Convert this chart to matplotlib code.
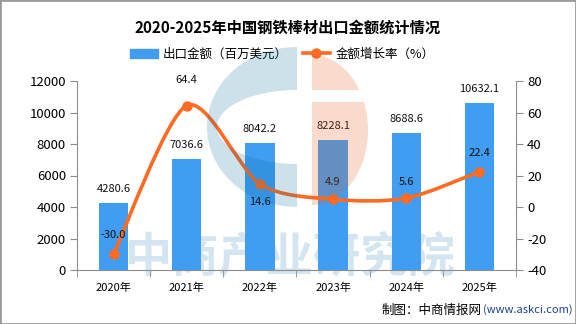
import numpy as np
import matplotlib.pyplot as plt
from matplotlib.path import Path
from matplotlib.patches import PathPatch, Rectangle, Polygon
from matplotlib.lines import Line2D

plt.rcParams['font.family'] = ['Noto Sans CJK SC', 'DejaVu Sans']
plt.rcParams['axes.unicode_minus'] = False

years = ['2020年', '2021年', '2022年', '2023年', '2024年', '2025年']
amount = [4280.6, 7036.6, 8042.2, 8228.1, 8688.6, 10632.1]
growth = [-30.0, 64.4, 14.6, 4.9, 5.6, 22.4]
# how far (px) each growth label sits from its point, negative = below
growth_offset = [19, 26, -18, 17, 16, 19]

BAR = '#409df2'
LINE = '#ff6b22'
GRAY = '#8c8c8c'

fig = plt.figure(figsize=(5.76, 3.24), dpi=100)
W, H = 576, 324
ax = fig.add_axes([77 / W, 1 - 270 / H, 439 / W, 189 / H])
x = np.arange(len(years))

# watermark text sits under the bars
ax.text(290 / W, 1 - 257 / H, '中商产业研究院', transform=fig.transFigure,
        ha='center', va='center', fontsize=34, fontweight='bold',
        color='#d3e5f0', zorder=1, clip_on=False)

ax.bar(x, amount, width=0.4, color=BAR, zorder=2)
for i, v in enumerate(amount):
    ax.annotate(f'{v:.1f}', (i, v), xytext=(0, 9), textcoords='offset pixels',
                ha='center', va='bottom', fontsize=8, color='#111111', zorder=5)

ax.set_xlim(-0.5, len(years) - 0.5)
ax.set_ylim(0, 12000)
ax.set_yticks(range(0, 12001, 2000))
ax.set_xticks(x, years)
ax.set_xticks(np.arange(-0.5, len(years)), minor=True)
ax.tick_params(axis='x', which='major', length=0, pad=9, labelsize=8)
ax.tick_params(axis='x', which='minor', length=5, color=GRAY)
ax.tick_params(axis='y', length=5, color=GRAY, pad=3, labelsize=9.5)
for s in ['left', 'bottom']:
    ax.spines[s].set_color(GRAY)
for s in ['top', 'right']:
    ax.spines[s].set_visible(False)

ax2 = ax.twinx()
ax2.set_ylim(-40, 80)
ax2.set_yticks(range(-40, 81, 20))
ax2.tick_params(axis='y', length=5, color=GRAY, pad=3, labelsize=9.5)
ax2.spines['right'].set_color(GRAY)
for s in ['top', 'left', 'bottom']:
    ax2.spines[s].set_visible(False)
ax2.patch.set_visible(False)

# smooth growth curve: cubic bezier through every point
pts = np.column_stack([x, growth]).astype(float)
t = 0.14
verts = [pts[0]]
codes = [Path.MOVETO]
for i in range(len(pts) - 1):
    prev = pts[i - 1] if i > 0 else pts[i]
    nxt = pts[i + 2] if i + 2 < len(pts) else pts[i + 1]
    c1 = pts[i] + (pts[i + 1] - prev) * t
    c2 = pts[i + 1] - (nxt - pts[i]) * t
    verts += [c1, c2, pts[i + 1]]
    codes += [Path.CURVE4] * 3
ax2.add_patch(PathPatch(Path(verts, codes), fill=False, edgecolor=LINE,
                        lw=2.6, capstyle='round', zorder=3))
ax2.plot(x, growth, 'o', color=LINE, markersize=6.5, zorder=4)
for i, v in enumerate(growth):
    ax2.annotate(f'{v:.1f}', (i, v), xytext=(0, growth_offset[i]),
                 textcoords='offset pixels', ha='center', va='center',
                 fontsize=8, color='#111111', zorder=5)

fig.text(0.5, 1 - 28 / H, '2020-2025年中国钢铁棒材出口金额统计情况',
         ha='center', va='center', fontsize=11, fontweight='bold')

handles = [Rectangle((0, 0), 1, 1, color=BAR),
           Line2D([], [], color=LINE, lw=2.6, marker='o', markersize=6.5)]
fig.legend(handles, ['出口金额（百万美元）', '金额增长率（%）'],
           loc='center', bbox_to_anchor=(0.49, 1 - 54 / H), ncol=2,
           frameon=False, fontsize=9, handlelength=2.2, handleheight=0.7,
           columnspacing=1.2, handletextpad=0.4)

fig.text(482 / W, 1 - 310 / H, '制图：中商情报网', ha='right', va='center',
         fontsize=9)
fig.text(483 / W, 1 - 310 / H, '(www.askci.com)', ha='left', va='center',
         fontsize=8, color='#1f3f8f')

# translucent logo drawn over the plot, pixel coords
ov = fig.add_axes([0, 0, 1, 1], zorder=10)
ov.set_xlim(0, W)
ov.set_ylim(H, 0)
ov.axis('off')
cx, cy = 297, 127
a_out, b_out = 90, 80
a_in, b_in = 80, 37
th = np.linspace(-np.pi / 2, np.pi / 2, 60)
outer = np.column_stack([cx - a_out * np.cos(th), cy + b_out * np.sin(th)])
inner = np.column_stack([cx - a_in * np.cos(th[::-1]), cy + b_in * np.sin(th[::-1])])
blue_shape = np.vstack([outer, inner])
ov.add_patch(Polygon(blue_shape, closed=True, facecolor='#05699f',
                     edgecolor='none', alpha=0.2))
px, py, pa, pb = 312, 130, 56, 75
ang = np.linspace(-np.pi / 2, np.pi / 2, 60)
peach = np.column_stack([px + pa * np.cos(ang), py + pb * np.sin(ang)])
# white gap across the orange half
top = peach[peach[:, 1] <= 90]
bottom = peach[peach[:, 1] >= 102]
for part in (top, bottom):
    edge_y = 90 if part is top else 102
    xr = px + pa * np.sqrt(1 - ((edge_y - py) / pb) ** 2)
    if part is top:
        poly = np.vstack([[px, py - pb], part, [xr, edge_y], [px, edge_y]])
    else:
        poly = np.vstack([[px, edge_y], [xr, edge_y], part, [px, py + pb]])
    ov.add_patch(Polygon(poly, closed=True, facecolor='#e35e1b',
                         edgecolor='none', alpha=0.22))

fig.patches.append(Rectangle((0, 0), 1, 1, transform=fig.transFigure,
                             fill=False, edgecolor='#9a9a9a', lw=2))

fig.savefig('out.png', dpi=100)
